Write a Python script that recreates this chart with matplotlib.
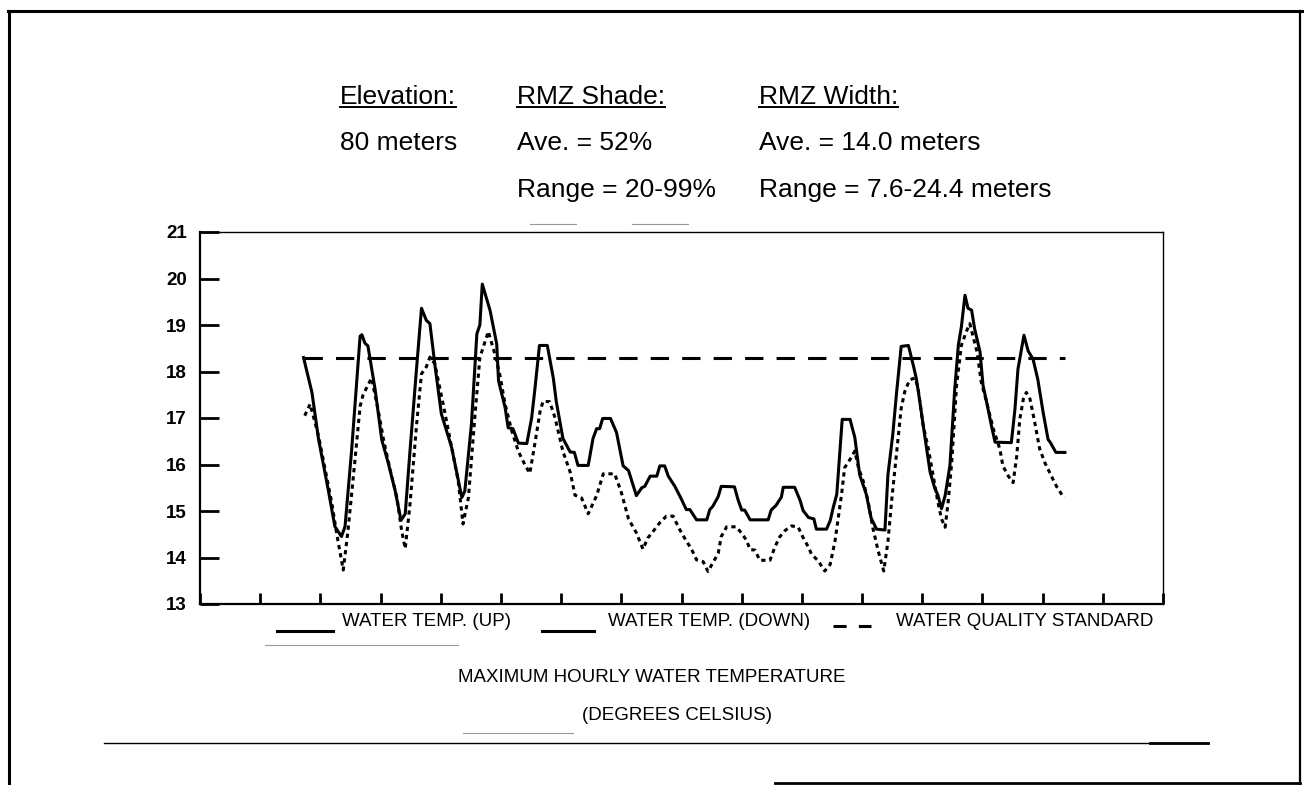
import matplotlib
matplotlib.use("Agg")
import matplotlib.pyplot as plt
from matplotlib.lines import Line2D

plt.rcParams['font.family'] = ['Liberation Sans', 'DejaVu Sans']

# (day, degrees C), one point per visible vertex
up_points = [
    (1.72, 18.30), (1.86, 17.55), (1.97, 16.54), (2.13, 15.46), (2.24, 14.67),
    (2.35, 14.45), (2.41, 14.67), (2.52, 16.32), (2.66, 18.76), (2.69, 18.79),
    (2.74, 18.61), (2.79, 18.55), (2.91, 17.61), (3.02, 16.53), (3.13, 16.02),
    (3.24, 15.45), (3.34, 14.80), (3.41, 14.94), (3.49, 16.31), (3.60, 18.10),
    (3.68, 19.36), (3.76, 19.10), (3.82, 19.03), (3.90, 18.17), (4.01, 17.09),
    (4.18, 16.37), (4.35, 15.29), (4.40, 15.43), (4.51, 16.87), (4.60, 18.81),
    (4.65, 19.00), (4.69, 19.88), (4.82, 19.31), (4.93, 18.59), (4.96, 17.80),
    (5.07, 17.22), (5.12, 16.79), (5.20, 16.77), (5.29, 16.46), (5.43, 16.45),
    (5.51, 17.00), (5.56, 17.57), (5.64, 18.56), (5.77, 18.56), (5.87, 17.86),
    (5.92, 17.35), (6.03, 16.56), (6.15, 16.27), (6.22, 16.26), (6.28, 15.98),
    (6.45, 15.98), (6.53, 16.56), (6.59, 16.77), (6.64, 16.77), (6.69, 16.99),
    (6.82, 16.99), (6.92, 16.69), (7.03, 15.97), (7.12, 15.87), (7.25, 15.33),
    (7.34, 15.50), (7.39, 15.53), (7.48, 15.75), (7.59, 15.75), (7.64, 15.97),
    (7.72, 15.97), (7.78, 15.75), (7.89, 15.53), (8.00, 15.25), (8.08, 15.03),
    (8.14, 15.03), (8.25, 14.81), (8.42, 14.81), (8.47, 15.03), (8.52, 15.10),
    (8.61, 15.31), (8.66, 15.53), (8.88, 15.52), (8.94, 15.24), (9.00, 15.02),
    (9.05, 15.02), (9.14, 14.81), (9.44, 14.81), (9.49, 15.02), (9.57, 15.12),
    (9.66, 15.30), (9.69, 15.51), (9.88, 15.51), (9.97, 15.23), (10.02, 15.01),
    (10.11, 14.86), (10.20, 14.83), (10.24, 14.61), (10.41, 14.61), (10.47, 14.79),
    (10.52, 15.07), (10.58, 15.36), (10.67, 16.97), (10.80, 16.97), (10.88, 16.58),
    (10.96, 15.78), (11.07, 15.36), (11.15, 14.85), (11.24, 14.61), (11.38, 14.59),
    (11.43, 15.78), (11.51, 16.64), (11.57, 17.50), (11.65, 18.54), (11.77, 18.56),
    (11.85, 18.14), (11.90, 17.86), (11.96, 17.35), (12.04, 16.63), (12.13, 15.84),
    (12.21, 15.48), (12.26, 15.34), (12.32, 15.05), (12.38, 15.33), (12.46, 15.98),
    (12.54, 17.63), (12.60, 18.57), (12.65, 18.96), (12.71, 19.64), (12.76, 19.36),
    (12.82, 19.32), (12.87, 18.92), (12.96, 18.42), (13.01, 17.70), (13.07, 17.34),
    (13.15, 16.83), (13.21, 16.48), (13.48, 16.47), (13.54, 17.19), (13.59, 18.05),
    (13.69, 18.78), (13.76, 18.44), (13.84, 18.27), (13.92, 17.83), (14.01, 17.11),
    (14.09, 16.54), (14.13, 16.47), (14.22, 16.26), (14.37, 16.26),
]

down_points = [
    (1.74, 17.05), (1.83, 17.30), (1.97, 16.61), (2.08, 15.89), (2.19, 15.17),
    (2.27, 14.52), (2.38, 13.73), (2.46, 14.59), (2.57, 16.03), (2.66, 17.25),
    (2.71, 17.50), (2.85, 17.86), (2.96, 17.17), (3.05, 16.53), (3.16, 15.88),
    (3.27, 15.30), (3.35, 14.58), (3.41, 14.19), (3.49, 15.16), (3.60, 16.88),
    (3.68, 17.95), (3.76, 18.10), (3.82, 18.31), (3.90, 18.17), (4.04, 17.30),
    (4.18, 16.37), (4.29, 15.65), (4.37, 14.72), (4.46, 15.29), (4.57, 17.08),
    (4.65, 18.30), (4.79, 18.86), (4.90, 18.37), (4.98, 17.94), (5.07, 17.29),
    (5.18, 16.72), (5.29, 16.28), (5.40, 15.99), (5.48, 15.81), (5.56, 16.42),
    (5.65, 17.14), (5.70, 17.36), (5.81, 17.35), (5.90, 17.00), (6.03, 16.28),
    (6.15, 15.84), (6.23, 15.34), (6.34, 15.28), (6.45, 14.94), (6.59, 15.33),
    (6.70, 15.80), (6.89, 15.80), (7.00, 15.40), (7.12, 14.83), (7.25, 14.53),
    (7.36, 14.18), (7.44, 14.42), (7.51, 14.53), (7.64, 14.75), (7.75, 14.89),
    (7.86, 14.89), (7.97, 14.60), (8.06, 14.40), (8.17, 14.17), (8.25, 13.95),
    (8.36, 13.91), (8.44, 13.70), (8.55, 13.95), (8.61, 14.09), (8.66, 14.45),
    (8.75, 14.66), (8.91, 14.66), (9.00, 14.52), (9.08, 14.37), (9.14, 14.17),
    (9.22, 14.16), (9.30, 13.94), (9.47, 13.94), (9.55, 14.22), (9.63, 14.44),
    (9.72, 14.58), (9.83, 14.68), (9.94, 14.65), (10.02, 14.43), (10.11, 14.22),
    (10.16, 14.07), (10.27, 13.93), (10.38, 13.71), (10.47, 13.85), (10.55, 14.35),
    (10.66, 15.36), (10.71, 15.93), (10.80, 16.11), (10.88, 16.29), (10.94, 15.93),
    (11.02, 15.64), (11.10, 15.21), (11.18, 14.63), (11.27, 14.13), (11.36, 13.71),
    (11.43, 14.34), (11.49, 15.20), (11.57, 16.21), (11.65, 17.21), (11.71, 17.57),
    (11.79, 17.82), (11.88, 17.86), (11.93, 17.65), (12.01, 16.87), (12.10, 16.35),
    (12.18, 15.77), (12.26, 15.19), (12.32, 14.83), (12.38, 14.65), (12.43, 15.19),
    (12.49, 16.05), (12.57, 17.70), (12.65, 18.56), (12.73, 18.85), (12.79, 19.03),
    (12.91, 18.42), (12.98, 17.77), (13.07, 17.34), (13.18, 16.77), (13.29, 16.33),
    (13.34, 15.97), (13.43, 15.75), (13.51, 15.61), (13.57, 16.18), (13.62, 16.97),
    (13.68, 17.41), (13.73, 17.55), (13.79, 17.41), (13.87, 16.90), (13.95, 16.34),
    (14.04, 16.03), (14.12, 15.82), (14.23, 15.53), (14.34, 15.31), (14.37, 15.31),
]

standard_days = [1.72, 14.37]
standard_temp = [18.3, 18.3]

x_ticks = list(range(0, 17))
y_ticks = [13, 14, 15, 16, 17, 18, 19, 20, 21]

header_titles = ["Elevation:", "RMZ Shade:", "RMZ Width:"]
header_rows = [["80 meters"],
               ["Ave. = 52%", "Range = 20-99%"],
               ["Ave. = 14.0 meters", "Range = 7.6-24.4 meters"]]
legend_labels = ["WATER TEMP. (UP)", "WATER TEMP. (DOWN)", "WATER QUALITY STANDARD"]
axis_title = ["MAXIMUM HOURLY WATER TEMPERATURE", "(DEGREES CELSIUS)"]

W, H = 1305, 785


def fx(x):
    return x / W


def fy(y):
    return 1 - y / H


def fig_line(fig, x0, x1, y0, y1, **kw):
    kw.setdefault("color", "black")
    fig.add_artist(Line2D([fx(x0), fx(x1)], [fy(y0), fy(y1)], **kw))


fig = plt.figure(figsize=(W / 100, H / 100), dpi=100)
fig.patch.set_facecolor("white")

# ---- main plot ----
ax = fig.add_axes([fx(200), fy(604), fx(1163) - fx(200), fy(232) - fy(604)])
up_days, up_temp = zip(*up_points)
down_days, down_temp = zip(*down_points)
ax.plot(up_days, up_temp, color="black", lw=2.2)
ax.plot(down_days, down_temp, color="black", lw=2.2, linestyle=(0, (1.4, 1.3)))
ax.plot(standard_days, standard_temp, color="black", lw=2.2, linestyle=(0, (6, 4.3)))

ax.set_xlim(0, 16)
ax.set_ylim(13, 21)
ax.set_xticks(x_ticks)
ax.set_xticklabels([])
ax.set_yticks(y_ticks)
ax.tick_params(axis="y", direction="in", length=14, width=2, pad=9.5, labelsize=13.5)
ax.tick_params(axis="x", direction="in", length=8, width=2)
for lab in ax.get_yticklabels():
    lab.set_fontweight("bold")
ax.spines["left"].set_linewidth(1.6)
ax.spines["bottom"].set_linewidth(1.6)
ax.spines["top"].set_linewidth(1.0)
ax.spines["right"].set_linewidth(1.0)

# ---- header block ----
renderer = fig.canvas.get_renderer()
col_x = [340, 517, 759]
row_base = [104, 150, 197]
for cx, title, rows in zip(col_x, header_titles, header_rows):
    t = fig.text(fx(cx), fy(row_base[0]), title, fontsize=19, va="baseline")
    bb = t.get_window_extent(renderer)
    fig_line(fig, bb.x0, bb.x1, row_base[0] + 3, row_base[0] + 3, lw=1.4)
    for i, txt in enumerate(rows):
        fig.text(fx(cx), fy(row_base[i + 1]), txt, fontsize=19, va="baseline")

# ---- legend drawn by hand, as on the scan ----
fig_line(fig, 277, 333, 631, 631, lw=2.2)
fig.text(fx(342), fy(622), legend_labels[0], fontsize=13.5, va="center")
fig_line(fig, 542, 594, 631, 631, lw=2.2)
fig.text(fx(608), fy(622), legend_labels[1], fontsize=13.5, va="center")
fig_line(fig, 833, 871, 626, 626, lw=2.2, linestyle=(0, (4.3, 4)))
fig.text(fx(896), fy(622), legend_labels[2], fontsize=13.5, va="center")

fig.text(fx(652), fy(677), axis_title[0], fontsize=13.5, ha="center", va="center")
fig.text(fx(677), fy(716), axis_title[1], fontsize=13.5, ha="center", va="center")

# ---- page frame and rules ----
fig_line(fig, 8, 1302, 11, 11, lw=2.2)
fig_line(fig, 9, 9, 11, 785, lw=2.2)
fig_line(fig, 1300, 1300, 11, 785, lw=1.6)
fig_line(fig, 104, 1208, 743, 743, lw=1.0)
fig_line(fig, 1150, 1208, 743, 743, lw=2.0)
fig_line(fig, 775, 1300, 783, 783, lw=2.0)

# faint scan marks
for x0, x1, y in [(530, 576, 224), (632, 688, 224), (265, 458, 645), (463, 573, 733)]:
    fig_line(fig, x0, x1, y, y, color="0.6", lw=0.8)

fig.savefig("out.png", dpi=100)
